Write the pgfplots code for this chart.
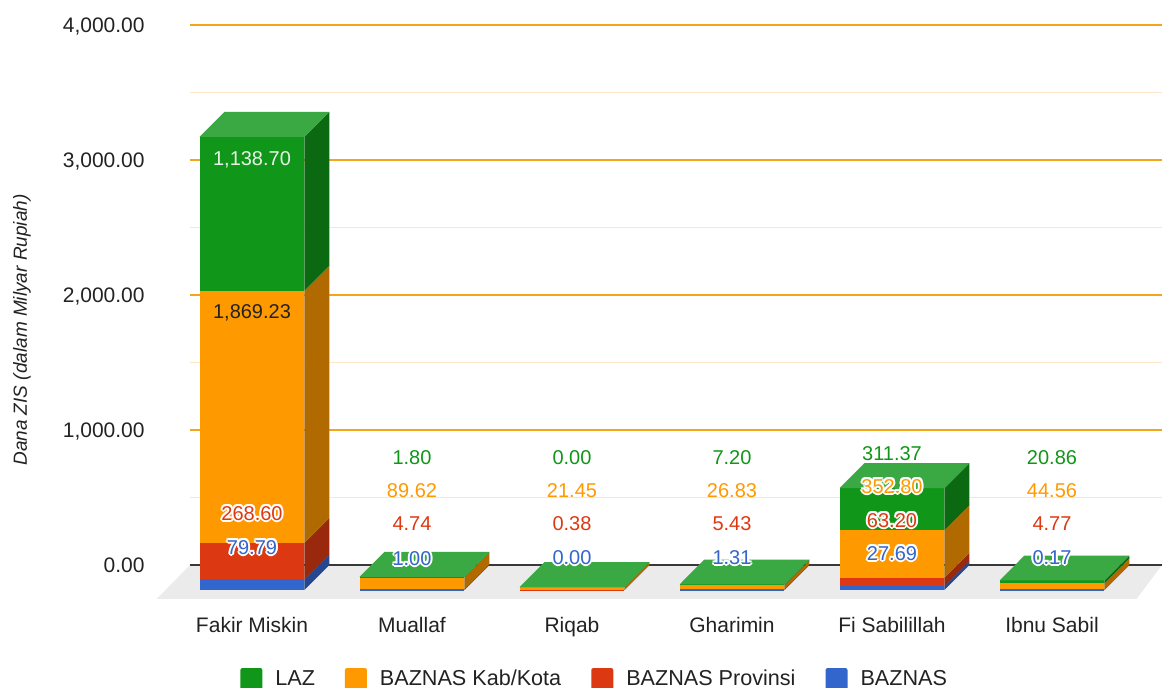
\documentclass[border=0pt]{standalone}
\usepackage{pgfplots}
\pgfplotsset{compat=1.18}
\usepackage{fontspec}
\setmainfont{Liberation Sans}

\definecolor{lazF}{HTML}{109618}
\definecolor{lazS}{HTML}{0B6A11}
\definecolor{lazT}{HTML}{3AA843}
\definecolor{kabF}{HTML}{FF9900}
\definecolor{kabS}{HTML}{B06A00}
\definecolor{proF}{HTML}{DC3912}
\definecolor{proS}{HTML}{99280C}
\definecolor{bazF}{HTML}{3366CC}
\definecolor{bazS}{HTML}{24478F}
\definecolor{gridMaj}{HTML}{F3A61A}
\definecolor{gridMin}{HTML}{FBE6C8}
\definecolor{floorC}{HTML}{EBEBEB}
\definecolor{txt}{HTML}{222222}
\definecolor{lazL}{HTML}{E6F4E6}

% one stacked segment: #1 bottom, #2 top (cumulative), #3 front colour, #4 side colour
\newcommand\seg[4]{%
  \pgfmathsetmacro\fb{#1-185}%
  \pgfmathsetmacro\ft{#2-185}%
  \edef\tmp{\noexpand\addplot[fill=#3,draw=none,forget plot] coordinates {(\xl,\fb) (\xr,\fb) (\xr,\ft) (\xl,\ft)};
    \noexpand\addplot[fill=#4,draw=none,forget plot] coordinates {(\xr,\fb) (\xb,#1) (\xb,#2) (\xr,\ft)};}%
  \tmp}
% a 3D stacked bar: #1 category, #2 BAZNAS, #3 Provinsi, #4 Kab/Kota, #5 LAZ
\newcommand\bardd[5]{%
  \pgfmathsetmacro\xl{#1-0.328}%
  \pgfmathsetmacro\xr{#1+0.328}%
  \pgfmathsetmacro\xb{#1+0.484}%
  \pgfmathsetmacro\xt{#1-0.172}%
  \pgfmathsetmacro\ya{0}%
  \pgfmathsetmacro\yb{#2}%
  \pgfmathsetmacro\yc{#2+#3}%
  \pgfmathsetmacro\yd{#2+#3+#4}%
  \pgfmathsetmacro\ye{#2+#3+#4+#5}%
  \seg{\ya}{\yb}{bazF}{bazS}%
  \seg{\yb}{\yc}{proF}{proS}%
  \seg{\yc}{\yd}{kabF}{kabS}%
  \seg{\yd}{\ye}{lazF}{lazS}%
  \pgfmathsetmacro\ft{\ye-185}%
  \edef\tmp{\noexpand\addplot[fill=lazT,draw=none,forget plot] coordinates {(\xl,\ft) (\xr,\ft) (\xb,\ye) (\xt,\ye)};}%
  \tmp}

\tikzset{dlab/.style={font=\fontsize{10}{12}\selectfont, inner sep=0pt, text height=7.2pt, text depth=0pt, anchor=center}}
\newcommand\lab[4]{\node[dlab, text=#3] at (axis cs:#1,#2) {#4};}
\newcommand\hlab[4]{%
  \node[dlab, text=white, xshift=1pt] at (axis cs:#1,#2) {#4};
  \node[dlab, text=white, xshift=-1pt] at (axis cs:#1,#2) {#4};
  \node[dlab, text=white, yshift=1pt] at (axis cs:#1,#2) {#4};
  \node[dlab, text=white, yshift=-1pt] at (axis cs:#1,#2) {#4};
  \node[dlab, text=white, xshift=0.7pt, yshift=0.7pt] at (axis cs:#1,#2) {#4};
  \node[dlab, text=white, xshift=-0.7pt, yshift=0.7pt] at (axis cs:#1,#2) {#4};
  \node[dlab, text=white, xshift=0.7pt, yshift=-0.7pt] at (axis cs:#1,#2) {#4};
  \node[dlab, text=white, xshift=-0.7pt, yshift=-0.7pt] at (axis cs:#1,#2) {#4};
  \lab{#1}{#2}{#3}{#4}}

\begin{document}
\begin{tikzpicture}
\path[use as bounding box] (-95pt,-44.125pt) rectangle (486pt,299.375pt);
\begin{axis}[
  at={(0pt,0pt)}, anchor=south west,
  scale only axis, width=486pt, height=286.875pt,
  xmin=-0.3875, xmax=5.6875, ymin=-250, ymax=4000,
  clip=false,
  axis line style={draw=none},
  major tick length=0pt, minor tick length=0pt,
  xtick={0,1,2,3,4,5},
  xticklabels={Fakir Miskin, Muallaf, Riqab, Gharimin, Fi Sabilillah, Ibnu Sabil},
  xticklabel style={font=\fontsize{10.5}{12}\selectfont, text=txt, anchor=center, inner sep=0pt, text height=7.5pt, text depth=0pt, yshift=-13.1pt},
  ytick={0,1000,2000,3000,4000},
  minor ytick={500,1500,2500,3500},
  scaled y ticks=false,
  yticklabel style={font=\fontsize{10.5}{12}\selectfont, text=txt, anchor=east, inner sep=0pt, text height=7.5pt, text depth=0pt, xshift=-22.5pt,
    /pgf/number format/.cd, fixed, fixed zerofill, precision=2, 1000 sep={,}, assume math mode=true},
  ymajorgrids, yminorgrids,
  major grid style={gridMaj, line width=1pt},
  minor grid style={gridMin, line width=0.6pt},
  ylabel={Dana ZIS (dalam Milyar Rupiah)},
  ylabel style={at={(axis description cs:-0.1728,0.4684)}, anchor=center, font=\fontsize{9.5}{11}\selectfont\itshape, text=txt},
  legend columns=4,
  legend style={at={(rel axis cs:0.0514,-0.14)}, anchor=west, draw=none, fill=none, inner sep=0pt,
    font=\fontsize{10.8}{12}\selectfont, text=txt,
    /tikz/every even column/.append style={column sep=13pt},
    /tikz/every odd column/.append style={column sep=4.5pt}},
  legend image code/.code={\fill[#1, rounded corners=1pt] (0pt,-5.5pt) rectangle (11pt,5.5pt);},
]
% floor
\addplot[fill=floorC, draw=none, forget plot] coordinates {(-0.3875,0) (5.6875,0) (5.53,-250) (-0.594,-250)};
% baseline
\addplot[color=txt!90, line width=0.8pt, forget plot] coordinates {(-0.3875,0) (5.6875,0)};

\addlegendimage{fill=lazF, draw=none}\addlegendentry{LAZ}
\addlegendimage{fill=kabF, draw=none}\addlegendentry{BAZNAS Kab/Kota}
\addlegendimage{fill=proF, draw=none}\addlegendentry{BAZNAS Provinsi}
\addlegendimage{fill=bazF, draw=none}\addlegendentry{BAZNAS}

\bardd{0}{79.79}{268.60}{1869.23}{1138.70}
\bardd{1}{1.00}{4.74}{89.62}{1.80}
\bardd{2}{0.00}{0.38}{21.45}{0.00}
\bardd{3}{1.31}{5.43}{26.83}{7.20}
\bardd{4}{27.69}{63.20}{352.80}{311.37}
\bardd{5}{0.17}{4.77}{44.56}{20.86}

% labels
\lab{0}{3014.8}{lazL}{1,138.70}
\lab{0}{1881.5}{txt}{1,869.23}
\hlab{0}{385.2}{proF}{268.60}
\hlab{0}{133.3}{bazF}{79.79}

\lab{1}{800}{lazF}{1.80}
\lab{1}{555.6}{kabF}{89.62}
\lab{1}{311.1}{proF}{4.74}
\hlab{1}{52}{bazF}{1.00}

\lab{2}{800}{lazF}{0.00}
\lab{2}{555.6}{kabF}{21.45}
\lab{2}{311.1}{proF}{0.38}
\hlab{2}{59.3}{bazF}{0.00}

\lab{3}{800}{lazF}{7.20}
\lab{3}{555.6}{kabF}{26.83}
\lab{3}{311.1}{proF}{5.43}
\hlab{3}{59.3}{bazF}{1.31}

\lab{4}{829.6}{lazF}{311.37}
\hlab{4}{585.2}{kabF}{352.80}
\hlab{4}{333.3}{proF}{63.20}
\hlab{4}{88.9}{bazF}{27.69}

\lab{5}{800}{lazF}{20.86}
\lab{5}{555.6}{kabF}{44.56}
\lab{5}{311.1}{proF}{4.77}
\hlab{5}{59.3}{bazF}{0.17}
\end{axis}
\end{tikzpicture}
\end{document}
